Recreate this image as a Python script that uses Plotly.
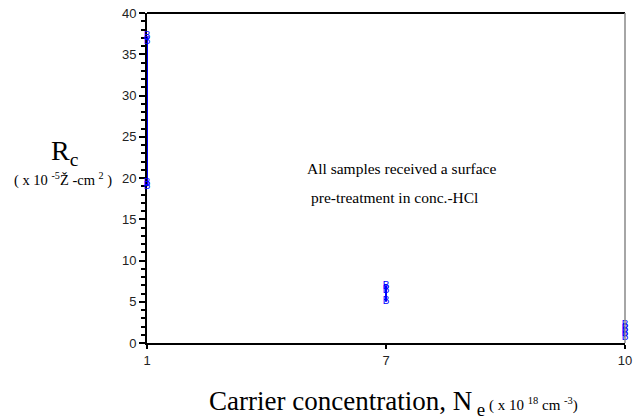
import plotly.graph_objects as go

categories = ["1", "7", "10"]
rc_at_1 = [19.0, 19.3, 36.5, 37.1]
rc_at_7 = [5.0, 6.4, 6.9]
rc_at_10 = [0.7, 1.1, 1.6, 2.1]
y_ticks = [0, 5, 10, 15, 20, 25, 30, 35, 40]

fig = go.Figure()
for cat, vals in zip(categories, [rc_at_1, rc_at_7, rc_at_10]):
    fig.add_trace(go.Scatter(
        x=[cat] * len(vals), y=vals, mode="lines+text", text=["B"] * len(vals),
        textposition="middle center",
        textfont=dict(family="Arial", size=10, color="#0000ff"),
        line=dict(color="#0000ff", width=2), cliponaxis=False, showlegend=False))

L, R, T, B = 147, 4, 13, 76
W, H = 636, 419
pw, ph = W - L - R, H - T - B

def px(x):
    return (x - L) / pw

def py(y):
    return (H - B - y) / ph

serif = "Liberation Serif, Times New Roman, serif"

def ann(text, x, y, size, xanchor="center"):
    return dict(text=text, x=px(x), y=py(y), xref="paper", yref="paper",
                xanchor=xanchor, yanchor="middle", showarrow=False,
                font=dict(family=serif, size=size, color="black"))

fig.update_layout(
    width=W, height=H, margin=dict(l=L, r=R, t=T, b=B),
    paper_bgcolor="white", plot_bgcolor="white",
    font=dict(family="Arial, Liberation Sans", size=13, color="#222"),
    xaxis=dict(type="category", categoryorder="array", categoryarray=categories,
               range=[0, 2], showline=True, linecolor="black", linewidth=2,
               ticks="outside", ticklen=4, tickwidth=2, tickcolor="black",
               showgrid=False, zeroline=False, layer="below traces",
               tickfont=dict(size=13)),
    yaxis=dict(range=[0, 40], tickvals=y_ticks, showline=True, linecolor="black",
               linewidth=2, ticks="outside", ticklen=6, tickwidth=2, tickcolor="black",
               minor=dict(dtick=1, ticks="outside", ticklen=4, tickwidth=2, tickcolor="black"),
               showgrid=False, zeroline=False, layer="below traces",
               tickfont=dict(size=13)),
    shapes=[
        dict(type="line", xref="paper", yref="paper", x0=0, x1=1, y0=1, y1=1,
             line=dict(color="black", width=2)),
        dict(type="line", xref="paper", yref="paper", x0=1, x1=1, y0=0, y1=1,
             line=dict(color="#888", width=1.5)),
    ],
    annotations=[
        ann("All samples received a surface", 405, 168, 15.5),
        ann("pre-treatment in conc.-HCl", 398, 198, 15.5),
        ann("R<sub>c</sub>", 64, 152, 28),
        ann("( x 10 <sup>-5</sup>Ž -cm <sup>2</sup> )", 62, 179, 14.5),
        ann("Carrier concentration, N<sub> e</sub>"
            "<span style='font-size:15px'> ( x 10 <sup>18</sup> cm <sup>-3</sup>)</span>",
            208, 403, 27, xanchor="left"),
    ],
)

fig.write_html("out.html")
